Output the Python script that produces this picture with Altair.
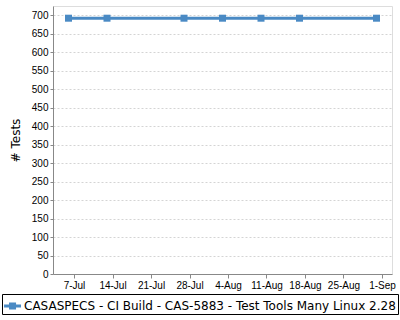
import altair as alt
import pandas as pd

# ---- data ----
series_name = "CASASPECS - CI Build - CAS-5883 - Test Tools Many Linux 2.28"
dates = ["2023-07-06", "2023-07-13", "2023-07-27", "2023-08-03",
         "2023-08-10", "2023-08-17", "2023-08-31"]
tests = [692, 692, 692, 692, 692, 692, 692]
tick_dates = ["2023-07-07", "2023-07-14", "2023-07-21", "2023-07-28", "2023-08-04",
              "2023-08-11", "2023-08-18", "2023-08-25", "2023-09-01"]
y_ticks = [0, 50, 100, 150, 200, 250, 300, 350, 400, 450, 500, 550, 600, 650, 700]

def ms(s):
    return int(pd.Timestamp(s, tz="UTC").value // 10**6)

df = pd.DataFrame({"date": [ms(d) for d in dates], "tests": tests, "series": series_name})
x_domain = [ms("2023-07-03T04:20"), ms("2023-09-02T19:40")]

COLOR = "#4a8ac4"
FONT = "DejaVu Sans"

# legend symbol: line with square marker (unit space, scaled by sqrt(size)/2)
sym = ("M-1.02,-0.154 H0.72 V0.154 H-1.02 Z "
       "M-0.51,-0.36 H0.21 V0.36 H-0.51 Z")

chart = alt.Chart(df).mark_line(
    strokeWidth=3,
    point=alt.OverlayMarkDef(shape="square", size=49, filled=True, opacity=1),
).encode(
    x=alt.X("date:T", title=None,
            scale=alt.Scale(type="utc", domain=x_domain, nice=False),
            axis=alt.Axis(values=[ms(t) for t in tick_dates],
                          labelExpr="utcFormat(datum.value, '%-d-%b')",
                          grid=False, tickSize=4,
                          labelPadding=2, labelFlush=False, labelOverlap=False)),
    y=alt.Y("tests:Q", title="# Tests",
            scale=alt.Scale(domain=[0, 725], nice=False, zero=True),
            axis=alt.Axis(values=y_ticks, grid=True, tickSize=3, labelPadding=2,
                          gridDash=[2, 2], gridColor="#d4d4d4", titlePadding=9,
                          titleFontWeight="normal", titleFontSize=12, titleFont=FONT,
                          titleColor="black")),
    color=alt.Color("series:N", scale=alt.Scale(range=[COLOR]),
                    legend=alt.Legend(title=None, orient="none", legendX=-51, legendY=288,
                                      symbolType=sym, symbolSize=380,
                                      symbolFillColor=COLOR, symbolStrokeWidth=0,
                                      symbolOpacity=1,
                                      labelLimit=0, labelOffset=0, labelFontSize=12,
                                      labelFont=FONT, labelColor="black",
                                      strokeColor="black", fillColor="white",
                                      padding=2, cornerRadius=0)),
).properties(
    width=339, height=268,
    autosize=alt.AutoSizeParams(type="none"),
    padding={"left": 53, "top": 6, "right": 8, "bottom": 46},
).configure_view(
    stroke="#c0c0c0", strokeWidth=1,
).configure_axis(
    labelFont=FONT, labelFontSize=10, labelColor="#222222",
    titleFont=FONT, titleFontSize=12, titleFontWeight="normal", titleColor="black",
    domainColor="#888888", tickColor="#888888",
).configure(background="white")

chart.save("out.html", embed_options={"renderer": "svg", "actions": False})
